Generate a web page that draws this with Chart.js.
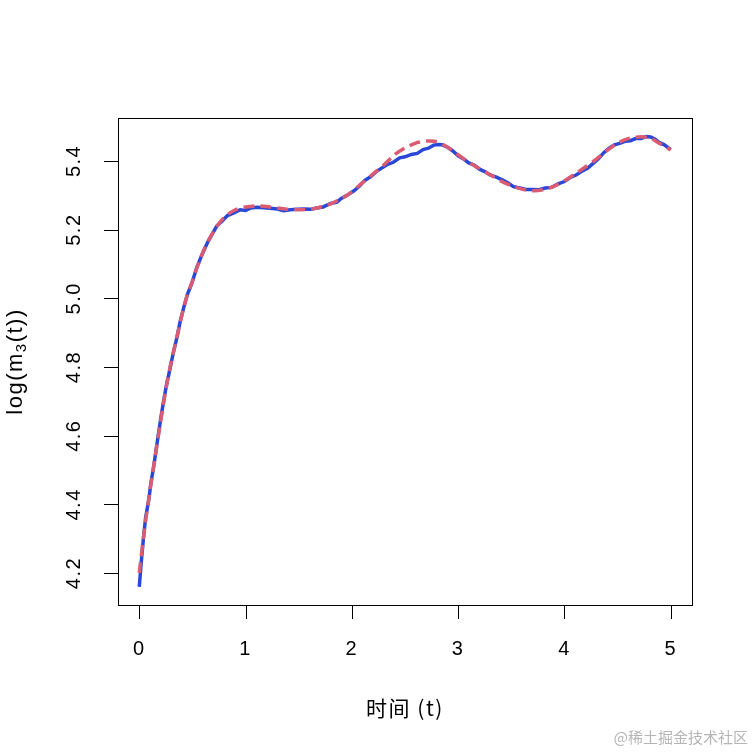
<!DOCTYPE html>
<html>
<head>
<meta charset="utf-8">
<script src="https://cdn.jsdelivr.net/npm/chart.js@4.4.1/dist/chart.umd.min.js"></script>
<style>
  html, body { margin: 0; padding: 0; background: #fff; }
  #wrap { width: 753px; height: 753px; position: relative; }
</style>
</head>
<body>
<div id="wrap"><canvas id="chart" width="753" height="753"></canvas></div>
<script>
// values
const blueT = [0.00, 0.02, 0.04, 0.06, 0.09, 0.11, 0.135, 0.16, 0.18, 0.205, 0.23, 0.255, 0.285, 0.32, 0.355, 0.385, 0.42, 0.455, 0.495, 0.54,
    0.59, 0.64, 0.685, 0.73, 0.78, 0.83, 0.89, 0.95, 1.00, 1.05, 1.11, 1.17, 1.23, 1.30, 1.36, 1.42, 1.49, 1.55, 1.61, 1.67,
    1.73, 1.80, 1.86, 1.90, 1.96, 2.02, 2.07, 2.12, 2.175, 2.23, 2.28, 2.33, 2.39, 2.45, 2.50, 2.56, 2.615, 2.67, 2.72, 2.77,
    2.81, 2.85, 2.90, 2.95, 3.00, 3.05, 3.10, 3.15, 3.20, 3.25, 3.30, 3.36, 3.42, 3.47, 3.52, 3.58, 3.64, 3.70, 3.76, 3.82,
    3.88, 3.94, 4.00, 4.05, 4.11, 4.17, 4.22, 4.27, 4.32, 4.37, 4.42, 4.47, 4.52, 4.57, 4.62, 4.67, 4.72, 4.77, 4.81, 4.85,
    4.89, 4.94, 5.00];
const blueLogM = [4.160, 4.236, 4.303, 4.362, 4.414, 4.463, 4.509, 4.562, 4.604, 4.656, 4.702, 4.746, 4.789, 4.841, 4.887, 4.933, 4.975, 5.013, 5.044, 5.089,
    5.127, 5.161, 5.186, 5.211, 5.225, 5.241, 5.249, 5.258, 5.256, 5.263, 5.265, 5.264, 5.262, 5.260, 5.255, 5.258, 5.259, 5.260, 5.259, 5.263,
    5.266, 5.276, 5.280, 5.291, 5.301, 5.313, 5.326, 5.343, 5.354, 5.369, 5.379, 5.389, 5.396, 5.409, 5.412, 5.419, 5.422, 5.433, 5.437, 5.446,
    5.448, 5.447, 5.440, 5.429, 5.415, 5.406, 5.394, 5.388, 5.376, 5.369, 5.359, 5.353, 5.344, 5.336, 5.325, 5.321, 5.317, 5.317, 5.316, 5.321,
    5.323, 5.333, 5.340, 5.351, 5.359, 5.371, 5.379, 5.393, 5.406, 5.424, 5.437, 5.447, 5.451, 5.457, 5.459, 5.465, 5.465, 5.471, 5.470, 5.464,
    5.454, 5.447, 5.433];

const redT = [0.00, 0.05, 0.10, 0.15, 0.20, 0.25, 0.30, 0.35, 0.40, 0.45, 0.50, 0.55, 0.60, 0.65, 0.70, 0.75, 0.80, 0.85, 0.90, 0.95,
    1.00, 1.10, 1.20, 1.30, 1.40, 1.50, 1.60, 1.70, 1.80, 1.90, 2.00, 2.10, 2.20, 2.30, 2.40, 2.50, 2.60, 2.70, 2.80, 2.90,
    3.00, 3.10, 3.20, 3.30, 3.40, 3.50, 3.60, 3.70, 3.80, 3.90, 4.00, 4.10, 4.20, 4.30, 4.40, 4.50, 4.60, 4.70, 4.80, 4.90, 5.00];
const redLogM = [4.200, 4.330, 4.440, 4.540, 4.640, 4.735, 4.815, 4.882, 4.950, 5.008, 5.050, 5.095, 5.135, 5.168, 5.195, 5.218, 5.236, 5.248, 5.257, 5.263,
    5.266, 5.269, 5.267, 5.263, 5.259, 5.258, 5.259, 5.265, 5.275, 5.290, 5.310, 5.337, 5.362, 5.388, 5.418, 5.438, 5.452, 5.458, 5.456, 5.440,
    5.418, 5.396, 5.378, 5.360, 5.342, 5.328, 5.318, 5.313, 5.316, 5.326, 5.342, 5.362, 5.383, 5.405, 5.430, 5.452, 5.465, 5.470, 5.468, 5.450, 5.432];

const xTicks = [0, 1, 2, 3, 4, 5];
const yTicks = [4.2, 4.4, 4.6, 4.8, 5.0, 5.2, 5.4];

const xTitle = '时间 (t)';
const watermark = '@稀土掘金技术社区';

const FONT = '"Liberation Sans", Arial, sans-serif';
const CJK = '"Noto Sans CJK SC", "Liberation Sans", sans-serif';

function toPoints(xs, ys) {
    return xs.map((x, i) => ({ x, y: ys[i] }));
}

// R style box, ticks and labels, drawn from the chart's scales
const baseAxes = {
    id: 'baseAxes',
    afterDraw(chart) {
        const { ctx, chartArea: a, scales } = chart;
        const xs = scales.x, ys = scales.y;
        ctx.save();
        ctx.strokeStyle = '#000';
        ctx.lineWidth = 1;
        ctx.strokeRect(a.left + 0.5, a.top + 0.5, a.right - a.left, a.bottom - a.top);

        ctx.fillStyle = '#000';
        ctx.font = '20px ' + FONT;
        ctx.letterSpacing = '1.5px';
        ctx.textAlign = 'center';
        ctx.textBaseline = 'middle';
        ctx.beginPath();
        xTicks.forEach(v => {
            const px = Math.round(xs.getPixelForValue(v)) + 0.5;
            ctx.moveTo(px, a.bottom);
            ctx.lineTo(px, a.bottom + 14);
        });
        yTicks.forEach(v => {
            const py = Math.round(ys.getPixelForValue(v)) + 0.5;
            ctx.moveTo(a.left, py);
            ctx.lineTo(a.left - 14, py);
        });
        ctx.stroke();

        xTicks.forEach(v => {
            ctx.fillText(String(v), xs.getPixelForValue(v), a.bottom + 44);
        });
        yTicks.forEach(v => {
            ctx.save();
            ctx.translate(a.left - 44, ys.getPixelForValue(v));
            ctx.rotate(-Math.PI / 2);
            ctx.fillText(v.toFixed(1), 0, 0);
            ctx.restore();
        });

        // x title
        ctx.font = '21px ' + CJK;
        ctx.letterSpacing = '1.5px';
        ctx.fillText(xTitle, (a.left + a.right) / 2, a.bottom + 103);

        // y title log(m_3(t))
        ctx.save();
        ctx.translate(16, (a.top + a.bottom) / 2);
        ctx.rotate(-Math.PI / 2);
        ctx.letterSpacing = '1.5px';
        const big = '22px ' + FONT, small = '15px ' + FONT;
        ctx.font = big;
        const w1 = ctx.measureText('log(m').width;
        const w3 = ctx.measureText('(t))').width;
        ctx.font = small;
        const w2 = ctx.measureText('3').width;
        let x0 = -(w1 + w2 + w3) / 2;
        ctx.textAlign = 'left';
        ctx.font = big;
        ctx.fillText('log(m', x0, 0);
        ctx.font = small;
        ctx.fillText('3', x0 + w1, 6);
        ctx.font = big;
        ctx.fillText('(t))', x0 + w1 + w2, 0);
        ctx.restore();

        // watermark
        ctx.letterSpacing = '0px';
        ctx.font = '15px ' + CJK;
        ctx.fillStyle = '#b5b5b5';
        ctx.textAlign = 'right';
        ctx.fillText(watermark, 748, 737);
        ctx.restore();
    }
};

new Chart(document.getElementById('chart'), {
    type: 'line',
    data: {
        datasets: [
            {
                label: 'red',
                data: toPoints(redT, redLogM),
                borderColor: '#DB5B72',
                borderWidth: 3.5,
                borderDash: [11, 6],
                pointRadius: 0,
                tension: 0.2,
                fill: false
            },
            {
                label: 'blue',
                data: toPoints(blueT, blueLogM),
                borderColor: '#2A48D6',
                borderWidth: 3.5,
                pointRadius: 0,
                tension: 0,
                fill: false
            }
        ]
    },
    options: {
        responsive: false,
        animation: false,
        devicePixelRatio: 1,
        layout: { padding: { left: 118, top: 118, right: 61, bottom: 148 } },
        plugins: { legend: { display: false }, tooltip: { enabled: false } },
        scales: {
            x: { type: 'linear', min: -0.2, max: 5.2, display: false },
            y: { type: 'linear', min: 4.107, max: 5.525, display: false }
        }
    },
    plugins: [baseAxes]
});
</script>
</body>
</html>
